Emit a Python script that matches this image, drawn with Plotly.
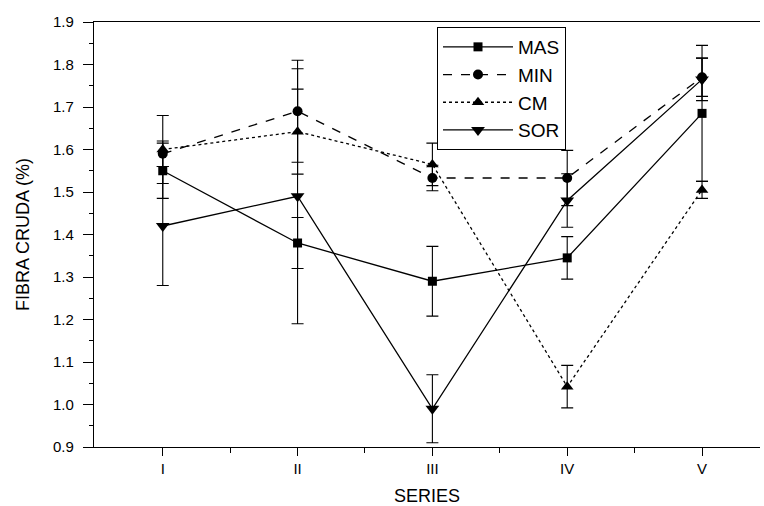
import plotly.graph_objects as go

categories = ["I", "II", "III", "IV", "V"]
x_pos = [1, 2, 3, 4, 5]

mas = [1.55, 1.38, 1.29, 1.345, 1.685]
mas_err = [0.065, 0.06, 0.082, 0.05, 0.16]
mn = [1.59, 1.69, 1.533, 1.533, 1.77]
mn_err = [0.03, 0.12, 0.03, 0.065, 0.045]
cm = [1.60, 1.642, 1.565, 1.042, 1.505]
cm_err = [0.08, 0.10, 0.05, 0.05, 0.02]
sor = [1.42, 1.49, 0.99, 1.48, 1.765]
sor_err = [0.14, 0.30, 0.08, 0.063, 0.05]

series = [
    ("MAS", mas, mas_err, "solid", "square", 9),
    ("MIN", mn, mn_err, "dash", "circle", 10),
    ("CM", cm, cm_err, "dot", "triangle-up", 11),
    ("SOR", sor, sor_err, "solid", "triangle-down", 12),
]

fig = go.Figure()
for name, ys, errs, dash, sym, size in series:
    fig.add_trace(go.Scatter(
        x=x_pos, y=ys, name=name, mode="lines+markers",
        line=dict(color="black", width=1.3, dash=dash),
        marker=dict(symbol=sym, size=size, color="black"),
        error_y=dict(type="data", array=errs, visible=True,
                     color="black", thickness=1.1, width=6),
    ))

fig.update_layout(
    width=764, height=506,
    margin=dict(l=94, r=4, t=22, b=59),
    paper_bgcolor="white", plot_bgcolor="white",
    font=dict(family="Liberation Sans, Arial, sans-serif", color="black"),
    showlegend=True,
    legend=dict(
        x=(437 - 94) / 666, y=1 - (27 - 22) / 425, xanchor="left", yanchor="top",
        bordercolor="black", borderwidth=1, bgcolor="white",
        font=dict(size=19), itemwidth=70, tracegroupgap=0,
    ),
)
fig.update_xaxes(
    range=[0.49, 5.43], tickmode="array", tickvals=x_pos, ticktext=categories,
    showline=True, linecolor="black", linewidth=1.2, mirror=True,
    ticks="outside", ticklen=8, tickwidth=1.2, tickcolor="black",
    showgrid=False, zeroline=False, tickfont=dict(size=15), automargin=False,
    minor=dict(tickvals=[1.5, 2.5, 3.5, 4.5], ticks="outside", ticklen=5,
               tickcolor="black", tickwidth=1, showgrid=False),
    title=dict(text="SERIES", font=dict(size=18), standoff=13),
)
fig.update_yaxes(
    range=[0.9, 1.9], tickmode="linear", tick0=0.9, dtick=0.1, tickformat=".1f",
    showline=True, linecolor="black", linewidth=1.2,
    ticks="outside", ticklen=10, tickwidth=1.2, tickcolor="black",
    showgrid=False, zeroline=False, tickfont=dict(size=15), automargin=False,
    ticklabelstandoff=6,
    minor=dict(dtick=0.05, tick0=0.9, ticks="outside", ticklen=4,
               tickcolor="black", tickwidth=1, showgrid=False),
    title=dict(text="FIBRA CRUDA (%)", font=dict(size=18), standoff=18),
)

fig.write_html("out.html", config={"displayModeBar": False},
               post_script="document.body.style.margin='0';")
